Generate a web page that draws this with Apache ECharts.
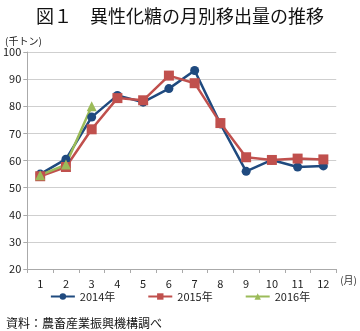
<!DOCTYPE html>
<html><head><meta charset="utf-8">
<script src="https://cdn.jsdelivr.net/npm/echarts@6/dist/echarts.min.js"></script>
<style>html,body{margin:0;padding:0;background:#fff}#c{width:360px;height:331px}</style>
</head><body><div id="c"></div>
<script>
var months = ['1','2','3','4','5','6','7','8','9','10','11','12'];
var s2014 = [55, 60.5, 76, 84, 81.5, 86.5, 93.2, 73.5, 56, 60.2, 57.6, 58];
var s2015 = [54.2, 57.6, 71.5, 83, 82.2, 91.3, 88.5, 73.8, 61.2, 60.2, 60.7, 60.4];
var s2016 = [54.6, 58.5, 80];
var yTicks = [20, 30, 40, 50, 60, 70, 80, 90, 100];
var font = '"Noto Sans CJK JP", "Noto Sans", sans-serif';
var chart = echarts.init(document.getElementById('c'));
function ser(name, data, color, symbol, size) {
  return {name: name, type: 'line', data: data, symbol: symbol, symbolSize: size,
    lineStyle: {color: color, width: 2.5}, itemStyle: {color: color}, animation: false};
}
chart.setOption({
  animation: false,
  textStyle: {fontFamily: font},
  title: [
    {text: '図１　異性化糖の月別移出量の推移', left: 'center', top: 2,
     textStyle: {fontSize: 18, fontWeight: 'normal', color: '#111', fontFamily: font}},
    {text: '(千トン)', left: 0, top: 31, textStyle: {fontSize: 10, fontWeight: 'normal', color: '#222', fontFamily: font}},
    {text: '資料：農畜産業振興機構調べ', left: 1, top: 312, textStyle: {fontSize: 12, fontWeight: 'normal', color: '#111', fontFamily: font}}
  ],
  grid: {left: 24, right: 14, top: 52, bottom: 62, containLabel: false},
  legend: {bottom: 24, itemGap: 32, itemWidth: 24, itemHeight: 8,
    textStyle: {fontSize: 11, color: '#222', fontFamily: font},
    data: ['2014年', '2015年', '2016年']},
  xAxis: {type: 'category', data: months, boundaryGap: true,
    name: '(月)', nameLocation: 'end', nameGap: 4,
    nameTextStyle: {fontSize: 10, color: '#333', verticalAlign: 'top', padding: [6, 0, 0, 0]},
    axisLine: {lineStyle: {color: '#aaa'}},
    axisTick: {show: true, alignWithLabel: false, lineStyle: {color: '#aaa'}, length: 4},
    axisLabel: {fontSize: 11, color: '#222', margin: 9}},
  yAxis: {type: 'value', min: 20, max: 100, interval: 10,
    axisLine: {show: true, lineStyle: {color: '#aaa'}},
    axisTick: {show: true, inside: false, length: 4, lineStyle: {color: '#aaa'}},
    axisLabel: {fontSize: 11, color: '#222', margin: 6,
      formatter: function (v) { return yTicks.indexOf(v) >= 0 ? String(v) : ''; }},
    splitLine: {lineStyle: {color: '#cfcfcf', width: 1.2}}},
  series: [
    ser('2014年', s2014, '#1f4a7f', 'circle', 9),
    ser('2015年', s2015, '#c0504d', 'rect', 10),
    ser('2016年', s2016, '#9bbb59', 'triangle', 10)
  ]
});
</script></body></html>
